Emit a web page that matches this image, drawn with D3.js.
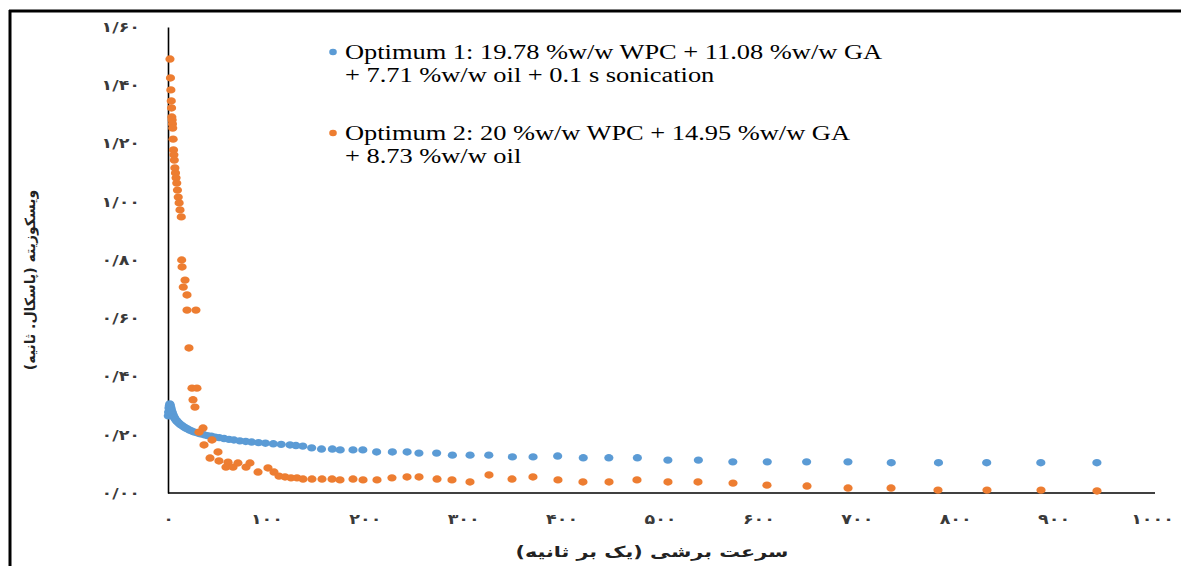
<!DOCTYPE html>
<html>
<head>
<meta charset="utf-8">
<script src="https://cdn.jsdelivr.net/npm/d3@7"></script>
<style>
  body { margin: 0; background: #fff; }
  #chart { width: 1181px; height: 566px; }
</style>
</head>
<body>
<div id="chart"></div>
<script>
// Optimum 1 (blue)
const shearRate1 = [0.3, 0.6, 1.0, 1.4, 1.8, 2.3, 2.8, 3.3, 3.9, 4.5, 5.2, 6.0, 6.8, 7.7, 8.7, 9.8, 11.0, 12.4, 14.0, 15.7,
    17.6, 19.7, 22.0, 24.5, 27.0, 30.0, 33.0, 36.5, 40.0, 44.0, 48.0, 52.0, 57.0, 62.0, 67.0, 73.0, 79.0, 85.0, 92.0, 99.0,
    107, 115, 124, 130, 137, 146, 156, 167, 175, 188, 198, 212, 228, 243, 255, 273, 289, 307, 326, 350,
    371, 396, 422, 448, 477, 508, 539, 574, 609, 649, 691, 735, 783, 832, 887, 944];
const viscosity1 = [0.265, 0.278, 0.292, 0.300, 0.306, 0.302, 0.295, 0.288, 0.280, 0.274, 0.268, 0.262, 0.257, 0.252, 0.248, 0.244, 0.240, 0.236, 0.232, 0.228,
    0.224, 0.220, 0.216, 0.212, 0.209, 0.206, 0.203, 0.200, 0.197, 0.195, 0.192, 0.190, 0.187, 0.184, 0.182, 0.179, 0.177, 0.175, 0.173, 0.171,
    0.169, 0.167, 0.165, 0.163, 0.161, 0.155, 0.151, 0.151, 0.148, 0.148, 0.148, 0.141, 0.141, 0.141, 0.137, 0.137, 0.130, 0.130, 0.130, 0.124,
    0.124, 0.127, 0.121, 0.121, 0.121, 0.113, 0.113, 0.107, 0.107, 0.107, 0.107, 0.104, 0.104, 0.104, 0.104, 0.104];

// Optimum 2 (orange)
const shearRate2 = [2.0, 2.5, 2.9, 3.3, 3.6, 3.9, 4.2, 4.5, 4.8, 5.2, 5.6, 6.0, 6.4, 7.0, 7.6, 8.2, 8.9, 9.6, 10.4, 11.3,
    12.2, 13.5, 13.9, 14.3, 17.3, 15.5, 19.3, 19.3, 28.4, 21.3, 24.4, 29.4, 25.4, 27.4, 35.6, 31.5, 44.7, 36.6, 50.8, 42.7,
    51.8, 61.0, 58.9, 66.1, 71.1, 79.3, 83.3, 91.5, 101.6, 107.7, 112.8, 118.9, 125.0, 131.1, 137.2, 146.3, 156.5, 166.7, 174.8, 188.0,
    198.2, 212.4, 227.6, 242.9, 255.1, 273.4, 288.6, 306.9, 326.2, 349.6, 370.9, 396.3, 421.7, 448.2, 476.6, 508.1, 538.6, 574.2, 608.7, 649.4,
    691.1, 734.8, 782.5, 832.3, 887.2, 944.1];
const viscosity2 = [1.49, 1.425, 1.384, 1.346, 1.322, 1.291, 1.281, 1.267, 1.253, 1.215, 1.178, 1.161, 1.143, 1.116, 1.099, 1.082, 1.064, 1.040, 1.016, 0.996,
    0.972, 0.948, 0.80, 0.776, 0.731, 0.707, 0.680, 0.628, 0.628, 0.498, 0.36, 0.36, 0.32, 0.295, 0.223, 0.209, 0.182, 0.165, 0.141, 0.120,
    0.110, 0.106, 0.089, 0.089, 0.103, 0.089, 0.103, 0.072, 0.086, 0.072, 0.058, 0.055, 0.052, 0.052, 0.048, 0.048, 0.048, 0.048, 0.045, 0.048,
    0.045, 0.045, 0.052, 0.055, 0.055, 0.048, 0.045, 0.038, 0.062, 0.048, 0.055, 0.045, 0.038, 0.038, 0.045, 0.038, 0.038, 0.034, 0.027, 0.024,
    0.017, 0.017, 0.010, 0.010, 0.010, 0.007];

const xTickValues = [0, 100, 200, 300, 400, 500, 600, 700, 800, 900, 1000];
const xTickLabels = ['۰', '۱۰۰', '۲۰۰', '۳۰۰', '۴۰۰', '۵۰۰', '۶۰۰', '۷۰۰', '۸۰۰', '۹۰۰', '۱۰۰۰'];
const yTickValues = [0, 0.2, 0.4, 0.6, 0.8, 1.0, 1.2, 1.4, 1.6];
const yTickLabels = ['۰/۰۰', '۰/۲۰', '۰/۴۰', '۰/۶۰', '۰/۸۰', '۱/۰۰', '۱/۲۰', '۱/۴۰', '۱/۶۰'];

const seriesNames = [
    ['Optimum 1: 19.78 %w/w WPC + 11.08 %w/w GA', '+ 7.71 %w/w oil + 0.1 s sonication'],
    ['Optimum 2: 20 %w/w WPC + 14.95 %w/w GA', '+ 8.73 %w/w oil']
];
const seriesColors = ['#5B9BD5', '#ED7D31'];
const xTitle = 'سرعت برشی (یک بر ثانیه)';
const yTitle = 'ویسکوزیته (پاسکال. ثانیه)';

// the source figure is stretched sideways, text included
function widen(sel, factor) {
    sel.each(function() {
        const w = this.getComputedTextLength();
        d3.select(this)
            .attr('textLength', w * factor)
            .attr('lengthAdjust', 'spacingAndGlyphs');
    });
}

const margin = { top: 27, right: 29, bottom: 73, left: 168 };
const width = 1181 - margin.left - margin.right;
const height = 566 - margin.top - margin.bottom;

const root = d3.select('#chart')
    .append('svg')
    .attr('width', 1181)
    .attr('height', 566);

// figure frame (only top and left edges visible)
root.append('line')
    .attr('x1', 9).attr('x2', 1181).attr('y1', 11).attr('y2', 11)
    .attr('stroke', '#000').attr('stroke-width', 3);
root.append('line')
    .attr('x1', 10).attr('x2', 10).attr('y1', 10).attr('y2', 566)
    .attr('stroke', '#000').attr('stroke-width', 3);

const svg = root.append('g')
    .attr('transform', `translate(${margin.left}, ${margin.top})`);

const xScale = d3.scaleLinear().domain([0, 1000]).range([0, 984]);
const yScale = d3.scaleLinear().domain([0, 1.6]).range([height, 0]);

const xAxis = svg.append('g')
    .attr('transform', `translate(0, ${height})`)
    .call(d3.axisBottom(xScale)
        .tickValues(xTickValues)
        .tickSize(0)
        .tickPadding(21)
        .tickFormat((d, i) => xTickLabels[i]));

const yAxis = svg.append('g')
    .call(d3.axisLeft(yScale)
        .tickValues(yTickValues)
        .tickSize(0)
        .tickPadding(28)
        .tickFormat((d, i) => yTickLabels[i]));

[xAxis, yAxis].forEach(ax => {
    ax.select('.domain').attr('stroke', '#000').attr('stroke-width', 1.6);
    ax.selectAll('text')
        .style('font-family', '"DejaVu Sans", sans-serif')
        .style('font-size', '14px')
        .style('font-weight', 'bold')
        .attr('fill', '#3a3a3a')
        .call(widen, 1.25);
});
xAxis.select('.domain').attr('d', `M0,0H987`);

svg.append('text')
    .attr('x', 484)
    .attr('y', height + 64)
    .attr('text-anchor', 'middle')
    .style('font-family', '"DejaVu Sans", sans-serif')
    .style('font-size', '15px')
    .style('font-weight', 'bold')
    .attr('fill', '#222')
    .text(xTitle)
    .call(widen, 1.38);

svg.append('text')
    .attr('transform', 'rotate(-90)')
    .attr('x', -253)
    .attr('y', -133)
    .attr('text-anchor', 'middle')
    .style('font-family', '"DejaVu Sans", sans-serif')
    .style('font-size', '14px')
    .style('font-weight', 'bold')
    .attr('fill', '#222')
    .text(yTitle);

const seriesData = [
    shearRate1.map((x, i) => ({ x: x, y: viscosity1[i] })),
    shearRate2.map((x, i) => ({ x: x, y: viscosity2[i] }))
];

seriesData.forEach((pts, s) => {
    svg.append('g')
        .selectAll('ellipse')
        .data(pts)
        .enter()
        .append('ellipse')
        .attr('cx', d => xScale(d.x))
        .attr('cy', d => yScale(d.y))
        .attr('rx', 4.6)
        .attr('ry', 3.7)
        .attr('fill', seriesColors[s]);
});

// legend
const legend = root.append('g').attr('transform', 'translate(333, 0)');
const legendRows = [52, 133];
seriesNames.forEach((lines, s) => {
    legend.append('ellipse')
        .attr('cx', 0)
        .attr('cy', legendRows[s])
        .attr('rx', 3.8)
        .attr('ry', 3.2)
        .attr('fill', seriesColors[s]);
    lines.forEach((t, j) => {
        legend.append('text')
            .attr('x', 12)
            .attr('y', legendRows[s] + 7 + j * 23)
            .style('font-family', '"Liberation Serif", "Times New Roman", serif')
            .style('font-size', '20px')
            .attr('fill', '#000')
            .text(t)
            .call(widen, 1.32);
    });
});
</script>
</body>
</html>
